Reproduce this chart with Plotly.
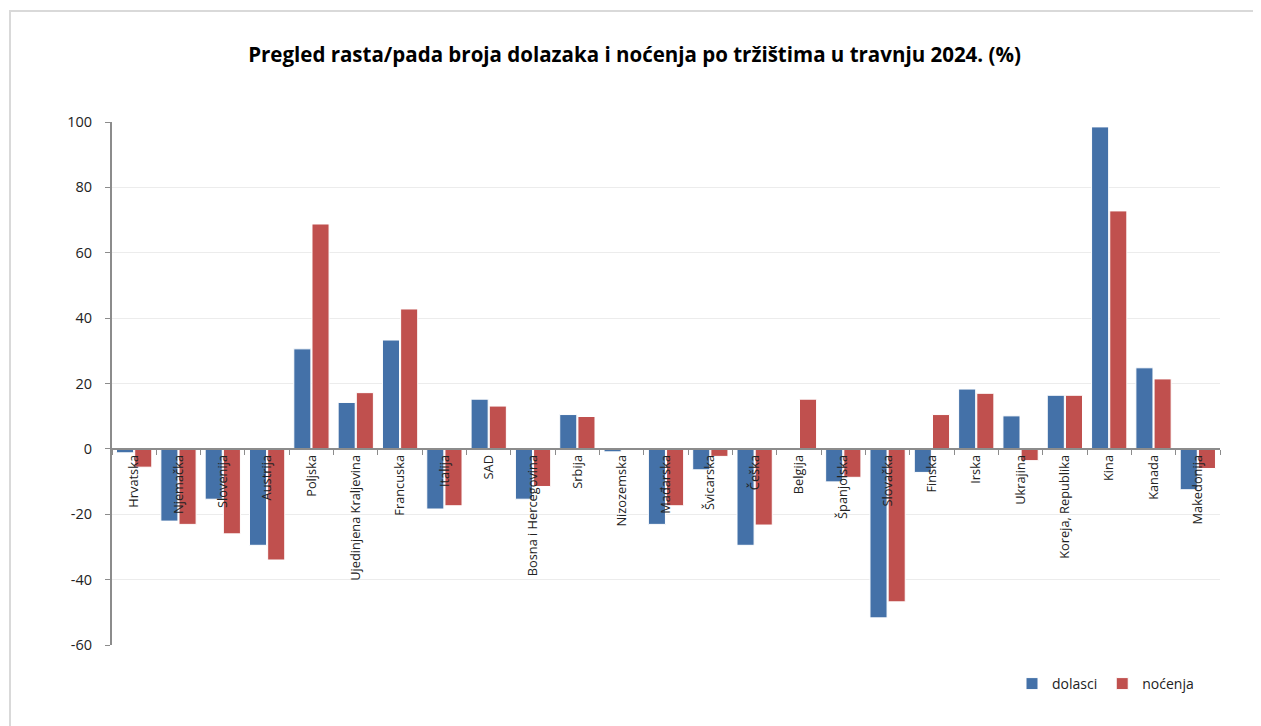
import plotly.graph_objects as go

categories = ["Hrvatska", "Njemačka", "Slovenija", "Austrija", "Poljska",
              "Ujedinjena Kraljevina", "Francuska", "Italija", "SAD",
              "Bosna i Hercegovina", "Srbija", "Nizozemska", "Mađarska",
              "Švicarska", "Češka", "Belgija", "Španjolska", "Slovačka",
              "Finska", "Irska", "Ukrajina", "Koreja, Republika", "Kina",
              "Kanada", "Makedonija"]
dolasci = [-1.2, -22.1, -15.4, -29.5, 30.6, 14.2, 33.3, -18.4, 15.2,
           -15.4, 10.5, -0.9, -23.1, -6.4, -29.5, 0.0, -10.1, -51.7,
           -7.2, 18.3, 10.1, 16.4, 98.5, 24.8, -12.5]
nocenja = [-5.6, -23.1, -26.0, -34.0, 68.8, 17.2, 42.8, -17.4, 13.1,
           -11.5, 9.9, 0.0, -17.4, -2.3, -23.3, 15.2, -8.7, -46.8,
           10.5, 17.0, -3.6, 16.4, 72.8, 21.4, -6.0]
y_ticks = [-60, -40, -20, 0, 20, 40, 60, 80, 100]
y_tick_labels = ["-60", "-40", "-20", "0", "20", "40", "60", "80", "100"]
title = "Pregled rasta/pada broja dolazaka i noćenja po tržištima u travnju 2024. (%)"

OFF = 8  # page body margin
W, H = 1261 - OFF, 726 - OFF
ml, mt = 112 - OFF, 122 - OFF
plot_w, plot_h = 1108, 523
mr = W - ml - plot_w
mb = H - mt - plot_h
ymin, ymax = -60, 100

fig = go.Figure()
fig.add_trace(go.Bar(name="dolasci", x=categories, y=dolasci,
                     marker=dict(color="#4471A8", line=dict(color="white", width=1))))
fig.add_trace(go.Bar(name="noćenja", x=categories, y=nocenja,
                     marker=dict(color="#C0504E", line=dict(color="white", width=1))))

zero_pos = (0 - ymin) / (ymax - ymin)


def px_x(p):
    return (p - OFF - ml) / plot_w


def px_y(p):
    return (H - mb - (p - OFF)) / plot_h


fig.update_layout(
    width=W, height=H,
    margin=dict(l=ml, r=mr, t=mt, b=mb),
    paper_bgcolor="white", plot_bgcolor="white",
    barmode="group", bargap=0.18, bargroupgap=0.06,
    font=dict(family="Open Sans, Liberation Sans, sans-serif", color="#222", size=13),
    title=dict(text="<b>" + title + "</b>", x=0.5, xanchor="center",
               y=1 - (55 - OFF) / H, yanchor="middle",
               font=dict(family="Open Sans, sans-serif", size=20.5, color="black")),
    xaxis=dict(type="category", anchor="free", position=zero_pos,
               tickangle=-90, showline=True, linecolor="#8c8c8c", linewidth=2,
               ticks="outside", tickson="boundaries", ticklen=5, tickcolor="#8c8c8c",
               tickfont=dict(size=12.8, color="#222"), showgrid=False,
               range=[-0.5, len(categories) - 0.5]),
    yaxis=dict(range=[ymin, ymax], tickvals=y_ticks, ticktext=y_tick_labels,
               showline=True,
               linecolor="#8c8c8c", linewidth=2, ticks="outside", ticklen=5,
               tickcolor="#8c8c8c", gridcolor="#ececec", gridwidth=1,
               zeroline=False, ticklabelstandoff=10,
               tickfont=dict(size=14.5, color="#222")),
    legend=dict(orientation="h", x=px_x(1012), xanchor="left",
                y=px_y(684), yanchor="middle",
                font=dict(size=14, color="#222"), itemwidth=30,
                traceorder="normal"),
    shapes=[dict(type="rect", xref="paper", yref="paper",
                 x0=px_x(10), x1=px_x(1270),
                 y0=px_y(740), y1=px_y(11),
                 line=dict(color="#d9d9d9", width=2), layer="below")],
)

fig.write_html("out.html")
